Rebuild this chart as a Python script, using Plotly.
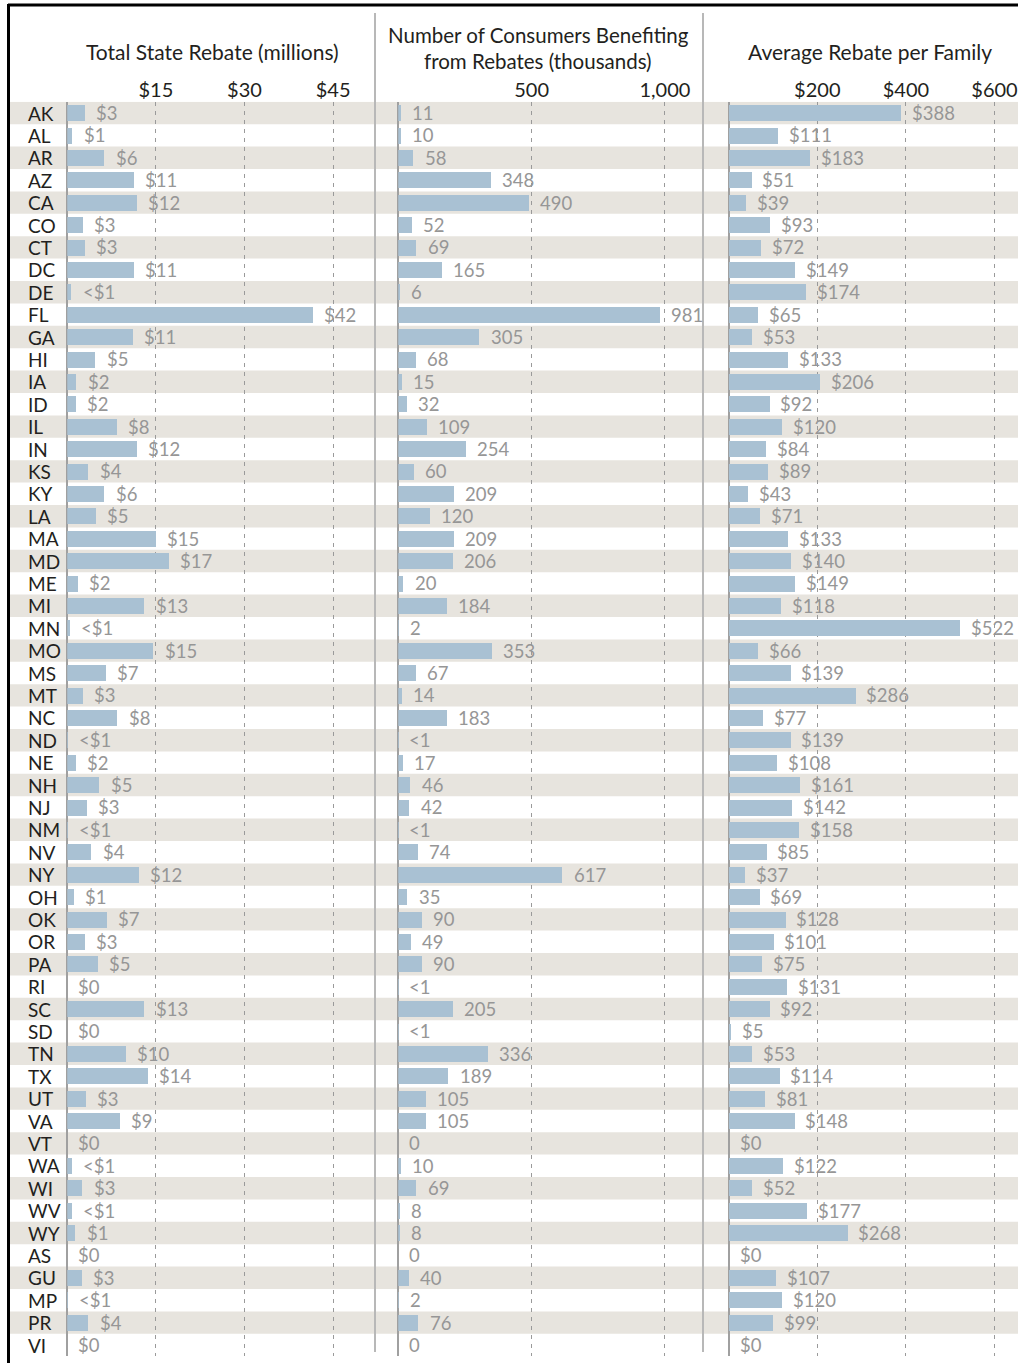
import plotly.graph_objects as go

W, H = 1018, 1365

states = ["AK", "AL", "AR", "AZ", "CA", "CO", "CT", "DC", "DE", "FL", "GA", "HI", "IA", "ID",
          "IL", "IN", "KS", "KY", "LA", "MA", "MD", "ME", "MI", "MN", "MO", "MS", "MT", "NC",
          "ND", "NE", "NH", "NJ", "NM", "NV", "NY", "OH", "OK", "OR", "PA", "RI", "SC", "SD",
          "TN", "TX", "UT", "VA", "VT", "WA", "WI", "WV", "WY", "AS", "GU", "MP", "PR", "VI"]

# Total State Rebate (millions) - bar lengths
total_rebate = [3.0, 0.9, 6.3, 11.3, 11.8, 2.7, 3.0, 11.3, 0.74, 41.6, 11.1, 4.8, 1.6, 1.5,
                8.4, 11.8, 3.6, 6.3, 4.9, 15.0, 17.3, 1.8, 13.1, 0.46, 14.6, 6.6, 2.7, 8.5,
                0.1, 1.5, 5.5, 3.4, 0.1, 4.1, 12.2, 1.2, 6.8, 3.0, 5.2, 0, 13.1, 0,
                10.0, 13.7, 3.2, 8.9, 0, 0.8, 2.6, 0.85, 1.4, 0, 2.5, 0.1, 3.6, 0]
total_labels = ["$3", "$1", "$6", "$11", "$12", "$3", "$3", "$11", "<$1", "$42", "$11", "$5", "$2", "$2",
                "$8", "$12", "$4", "$6", "$5", "$15", "$17", "$2", "$13", "<$1", "$15", "$7", "$3", "$8",
                "<$1", "$2", "$5", "$3", "<$1", "$4", "$12", "$1", "$7", "$3", "$5", "$0", "$13", "$0",
                "$10", "$14", "$3", "$9", "$0", "<$1", "$3", "<$1", "$1", "$0", "$3", "<$1", "$4", "$0"]

# Number of consumers benefiting (thousands)
consumers = [11, 10, 58, 348, 490, 52, 69, 165, 6, 981, 305, 68, 15, 32,
             109, 254, 60, 209, 120, 209, 206, 20, 184, 2, 353, 67, 14, 183,
             0.3, 17, 46, 42, 0.3, 74, 617, 35, 90, 49, 90, 0.3, 205, 0.3,
             336, 189, 105, 105, 0, 10, 69, 8, 8, 0, 40, 2, 76, 0]
consumer_labels = ["11", "10", "58", "348", "490", "52", "69", "165", "6", "981", "305", "68", "15", "32",
                   "109", "254", "60", "209", "120", "209", "206", "20", "184", "2", "353", "67", "14", "183",
                   "<1", "17", "46", "42", "<1", "74", "617", "35", "90", "49", "90", "<1", "205", "<1",
                   "336", "189", "105", "105", "0", "10", "69", "8", "8", "0", "40", "2", "76", "0"]

# Average rebate per family ($)
avg_rebate = [388, 111, 183, 51, 39, 93, 72, 149, 174, 65, 53, 133, 206, 92,
              120, 84, 89, 43, 71, 133, 140, 149, 118, 522, 66, 139, 286, 77,
              139, 108, 161, 142, 158, 85, 37, 69, 128, 101, 75, 131, 92, 5,
              53, 114, 81, 148, 0, 122, 52, 177, 268, 0, 107, 120, 99, 0]
avg_labels = ["$" + str(v) for v in avg_rebate]

panel_titles = [["Total State Rebate (millions)"],
                ["Number of Consumers Benefiting", "from Rebates (thousands)"],
                ["Average Rebate per Family"]]
tick_vals_1, tick_text_1 = [15, 30, 45], ["$15", "$30", "$45"]
tick_vals_2, tick_text_2 = [500, 1000], ["500", "1,000"]
tick_vals_3, tick_text_3 = [200, 400, 600], ["$200", "$400", "$600"]

FONT = "Lato"
BAR = "#a9c1d3"
SHADE = "#e7e4de"
DARK = "#231f20"
GRAYTXT = "#969696"

def px(x):
    return x / W

def py(y):
    return 1 - y / H

# axis geometry (pixels)
z1, s1, r1 = 67.3, 5.907, 372.0
z2, s2, r2 = 398.3, 0.2666, 700.0
z3, s3, r3 = 728.7, 0.443, 1018.0
ytop, ybot = 101.8, 1356.2

fig = go.Figure()
n = len(states)
for vals, xa in [(total_rebate, "x"), (consumers, "x2"), (avg_rebate, "x3")]:
    fig.add_trace(go.Bar(x=vals, y=states, orientation="h", xaxis=xa, yaxis="y",
                         width=0.72, marker=dict(color=BAR, line=dict(width=0)),
                         hoverinfo="skip", showlegend=False))

ann = []
for i, s in enumerate(states):
    ann.append(dict(x=px(26), xref="paper", y=s, yref="y", text=s, showarrow=False,
                    xanchor="left", yanchor="middle", font=dict(family=FONT, size=19, color=DARK)))
    for vals, labs, xr in [(total_rebate, total_labels, "x"), (consumers, consumer_labels, "x2"),
                           (avg_rebate, avg_labels, "x3")]:
        ann.append(dict(x=vals[i], xref=xr, y=s, yref="y", text=labs[i], showarrow=False,
                        xanchor="left", yanchor="middle", xshift=9,
                        font=dict(family=FONT, size=18.5, color=GRAYTXT)))

title_pos = [(212, [52], 21), (538, [35, 61], 20.5), (870, [52], 21)]
for lines, (cx, ys, fs) in zip(panel_titles, title_pos):
    for t, yy in zip(lines, ys):
        ann.append(dict(x=px(cx), y=py(yy), xref="paper", yref="paper", text=t, showarrow=False,
                        font=dict(family=FONT, size=fs, color=DARK), xanchor="center", yanchor="middle",
                        borderpad=0))

shapes = []
for i in range(0, n, 2):
    shapes.append(dict(type="rect", xref="paper", yref="y", x0=px(10), x1=1, y0=i - 0.5, y1=i + 0.5,
                       fillcolor=SHADE, line=dict(width=0), layer="below"))
for xd in [375, 703]:
    shapes.append(dict(type="line", xref="paper", yref="paper", x0=px(xd), x1=px(xd), y0=py(13), y1=py(1352),
                       line=dict(color="#b8b8b8", width=2)))
shapes.append(dict(type="line", xref="paper", yref="paper", x0=px(8), x1=1, y0=py(5), y1=py(5),
                   line=dict(color="black", width=3)))
shapes.append(dict(type="line", xref="paper", yref="paper", x0=px(8.5), x1=px(8.5), y0=py(4), y1=py(1363),
                   line=dict(color="black", width=3)))

def xaxis(z, s, r, tv, tt):
    return dict(domain=[px(z), px(r)], range=[0, (r - z) / s], anchor="y", side="top",
                tickvals=tv, ticktext=tt, ticks="", showline=False, ticklabeloverflow="allow",
                showgrid=True, gridcolor="#9a9a9a", gridwidth=1.2, griddash="4px,5px",
                zeroline=True, zerolinecolor="#a0a0a0", zerolinewidth=1.5,
                tickfont=dict(family=FONT, size=20, color=DARK), fixedrange=True)

fig.update_layout(
    width=W, height=H, margin=dict(l=0, r=0, t=0, b=0),
    paper_bgcolor="white", plot_bgcolor="rgba(0,0,0,0)",
    bargap=0, showlegend=False,
    xaxis=xaxis(z1, s1, r1, tick_vals_1, tick_text_1),
    xaxis2=xaxis(z2, s2, r2, tick_vals_2, tick_text_2),
    xaxis3=xaxis(z3, s3, r3, tick_vals_3, tick_text_3),
    yaxis=dict(domain=[py(ybot), py(ytop)], range=[n - 0.5, -0.5], type="category",
               categoryorder="array", categoryarray=states, showticklabels=False,
               showgrid=False, zeroline=False, ticks="", fixedrange=True),
    annotations=ann, shapes=shapes,
)

fig.write_html("out.html", config={"displayModeBar": False},
               post_script="document.body.style.margin='0';")
